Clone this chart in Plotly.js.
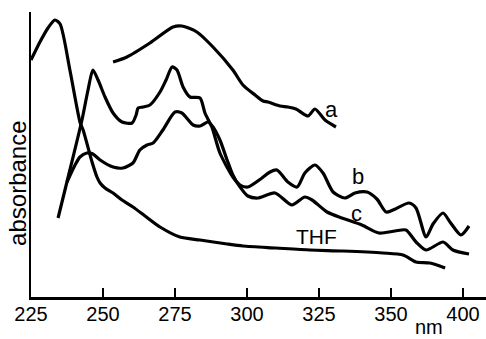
<!DOCTYPE html>
<html>
<head>
<meta charset="utf-8">
<script src="https://cdn.plot.ly/plotly-3.0.1.min.js"></script>
<style>html,body{margin:0;padding:0;background:#fff;}#chart{width:486px;height:339px;}</style>
</head>
<body>
<div id="chart"></div>
<script>
// Wavelength (nm, axis scale) and absorbance (arbitrary units)
const thfX = [225.0,228.1,230.9,233.3,235.1,238.5,242.0,243.1,246.2,247.9,249.0,250.7,253.5,256.6,260.4,264.6,269.8,276.7,283.7,293.1,298.6,310.1,321.9,333.3,347.2,354.2,358.7,363.5,368.8];
const thfY = [2.37,2.55,2.69,2.77,2.73,2.27,1.75,1.67,1.35,1.20,1.14,1.09,1.04,0.97,0.90,0.81,0.70,0.60,0.57,0.53,0.51,0.49,0.47,0.46,0.44,0.42,0.35,0.34,0.29];

const aX = [253.5,258.3,266.3,274.3,277.4,282.6,288.2,295.1,298.6,302.8,305.6,307.3,311.5,314.2,317.0,321.2,323.6,327.1,330.9];
const aY = [2.35,2.40,2.54,2.70,2.71,2.65,2.50,2.27,2.12,2.02,1.96,1.95,1.91,1.90,1.88,1.81,1.88,1.77,1.70];

const bX = [234.4,238.5,242.7,244.8,246.5,248.3,250.7,253.5,256.6,260.1,261.5,262.2,263.9,266.3,269.8,271.9,274.0,275.7,277.8,280.2,283.7,285.4,287.8,290.6,295.1,297.6,300.3,305.2,308.0,310.4,314.2,317.4,320.1,323.6,326.4,329.9,334.0,337.5,341.7,345.1,348.3,350.7,356.3,358.7,362.2,364.6,368.1,370.5,374.3,377.1];
const bY = [0.79,1.27,1.77,2.07,2.27,2.17,2.00,1.84,1.75,1.74,1.82,1.89,1.90,1.92,2.05,2.17,2.30,2.27,2.10,2.00,1.99,1.84,1.70,1.44,1.20,1.12,1.10,1.19,1.25,1.27,1.15,1.10,1.24,1.32,1.24,1.05,0.99,1.04,1.05,0.98,0.85,0.87,0.94,0.89,0.60,0.73,0.84,0.75,0.62,0.71];

const cX = [237.5,240.3,242.0,244.4,246.5,249.0,253.5,256.9,260.4,262.8,265.3,267.4,270.8,275.0,277.4,281.3,283.7,286.5,288.2,290.6,293.1,295.1,297.6,300.3,303.8,309.7,315.6,320.1,322.6,327.8,333.0,339.9,345.8,351.4,355.2,358.7,362.2,368.1,371.5,377.1];
const cY = [1.15,1.32,1.40,1.44,1.43,1.37,1.30,1.29,1.34,1.47,1.52,1.54,1.67,1.85,1.84,1.72,1.71,1.75,1.70,1.57,1.37,1.22,1.10,1.01,0.99,1.04,0.92,1.00,0.97,0.85,0.79,0.72,0.64,0.66,0.67,0.55,0.47,0.55,0.47,0.43];

const tickVals = [225,250,275,300,325,350,375];
const tickText = ['225','250','275','300','325','350','400'];

const lineStyle = {color:'#000', width:3.2, shape:'spline', smoothing:0.7};
const mk = (x,y,name) => ({x:x, y:y, name:name, mode:'lines', type:'scatter', line:lineStyle, hoverinfo:'skip'});

const data = [mk(thfX,thfY,'THF'), mk(aX,aY,'a'), mk(bX,bY,'b'), mk(cX,cY,'c')];

const font = 'Liberation Sans, Arial, sans-serif';
const layout = {
  width:486, height:339,
  margin:{l:31, r:0, t:12, b:42},
  paper_bgcolor:'#fff', plot_bgcolor:'#fff',
  showlegend:false,
  xaxis:{range:[225,383], tickvals:tickVals, ticktext:tickText, ticks:'inside', ticklen:9, tickwidth:2, tickcolor:'#000',
         showline:true, linecolor:'#000', linewidth:3, showgrid:false, zeroline:false, ticklabelstandoff:-3,
         tickfont:{family:font, size:20, color:'#000'}},
  yaxis:{range:[0,2.85], showticklabels:false, ticks:'', showline:true, linecolor:'#000', linewidth:2, showgrid:false, zeroline:false},
  annotations:[
    {text:'absorbance', xref:'paper', yref:'paper', x:-0.031, y:0.40, textangle:-90, showarrow:false, xanchor:'center', yanchor:'middle', font:{family:font, size:24, color:'#000'}},
    {text:'nm', xref:'paper', yref:'paper', x:0.875, y:-0.1465, showarrow:false, xanchor:'center', yanchor:'bottom', borderpad:0, font:{family:font, size:20, color:'#000'}},
    {text:'a', x:329.5, y:1.88, showarrow:false, font:{family:font, size:22, color:'#000'}},
    {text:'b', x:338.5, y:1.21, showarrow:false, font:{family:font, size:22, color:'#000'}},
    {text:'c', x:338.2, y:0.84, showarrow:false, font:{family:font, size:22, color:'#000'}},
    {text:'THF', x:324.0, y:0.61, showarrow:false, font:{family:font, size:21, color:'#000'}}
  ]
};
Plotly.newPlot('chart', data, layout, {staticPlot:true, displayModeBar:false});
</script>
</body>
</html>
